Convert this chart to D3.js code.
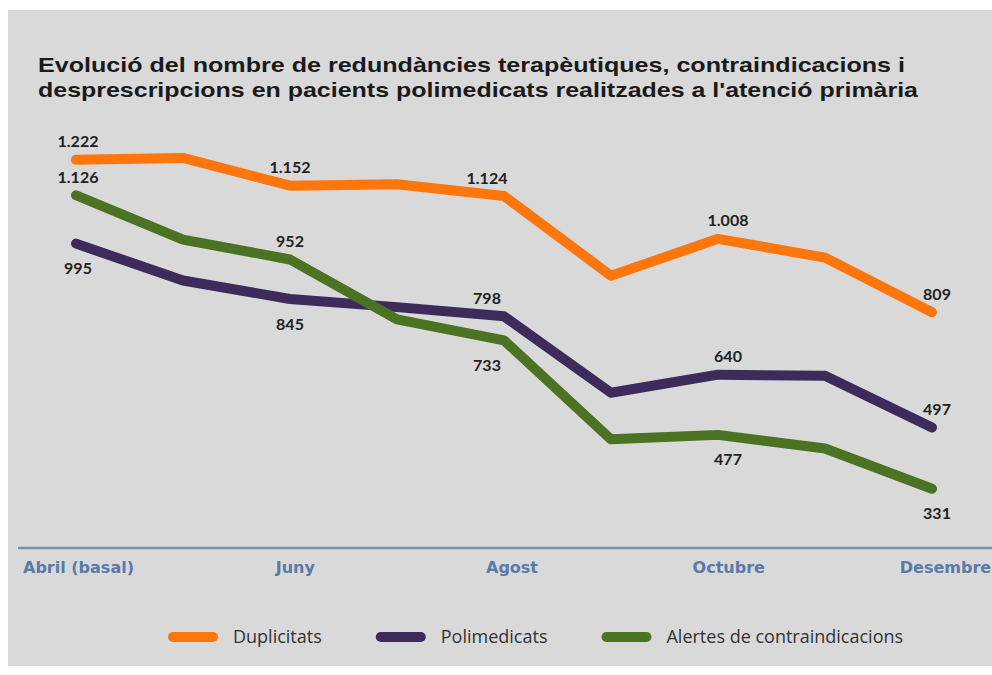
<!DOCTYPE html>
<html>
<head>
<meta charset="utf-8">
<script src="https://cdn.jsdelivr.net/npm/d3@7"></script>
<style>
  body { margin: 0; background: #fff; }
  svg { display: block; }
</style>
</head>
<body>
<div id="chart"></div>
<script>
const months = ["Abril (basal)", "Maig", "Juny", "Juliol", "Agost", "Setembre", "Octubre", "Novembre", "Desembre"];
const tickMonths = ["Abril (basal)", "Juny", "Agost", "Octubre", "Desembre"];

const duplicitats = [1222, 1227, 1152, 1156, 1124, 908, 1008, 957, 809];
const polimedicats = [995, 895, 845, 823, 798, 591, 640, 637, 497];
const alertes = [1126, 1006, 952, 790, 733, 465, 477, 440, 331];

const seriesNames = ["Duplicitats", "Polimedicats", "Alertes de contraindicacions"];
const titleLines = [
  "Evolució del nombre de redundàncies terapèutiques, contraindicacions i",
  "desprescripcions en pacients polimedicats realitzades a l'atenció primària"
];

const series = [
  { name: seriesNames[0], values: duplicitats, color: "#ff760d", place: ["a", "a", "a", "a", "a"] },
  { name: seriesNames[1], values: polimedicats, color: "#3d2b5b", place: ["b", "b", "a", "a", "a"] },
  { name: seriesNames[2], values: alertes, color: "#4b7323", place: ["a", "a", "b", "b", "b"] }
];

const width = 992, height = 675;
const fmt = v => v >= 1000 ? d3.format(",")(v).replace(",", ".") : String(v);

const svg = d3.select("#chart").append("svg")
  .attr("width", width)
  .attr("height", height);

svg.append("rect")
  .attr("x", 8).attr("y", 10)
  .attr("width", width - 8).attr("height", 656)
  .attr("fill", "#d9d9d9");

// title
svg.selectAll(".title")
  .data(titleLines)
  .enter()
  .append("text")
  .attr("class", "title")
  .attr("x", 38)
  .attr("y", (d, i) => 72 + i * 25)
  .attr("font-family", "'Liberation Sans', Arial, sans-serif")
  .attr("font-weight", "bold")
  .attr("font-size", "21px")
  .attr("fill", "#1a1a1a")
  .attr("textLength", (d, i) => i === 0 ? 867 : 880)
  .attr("lengthAdjust", "spacingAndGlyphs")
  .text(d => d);

const x = d3.scalePoint().domain(months).range([76, 932]);
const xLabel = d3.scalePoint().domain(months).range([78, 945]);
const y = d3.scaleLinear().domain([0, 1300]).range([611, 131]);

// axis line
svg.append("line")
  .attr("x1", 18).attr("x2", width)
  .attr("y1", 548).attr("y2", 548)
  .attr("stroke", "#7b8fa9")
  .attr("stroke-width", 2.5);

const xAxis = svg.append("g")
  .attr("transform", "translate(0,548)")
  .call(d3.axisBottom(xLabel).tickValues(tickMonths).tickSize(0).tickPadding(14));
xAxis.select(".domain").remove();
xAxis.selectAll("text")
  .attr("font-family", "'DejaVu Sans', Verdana, sans-serif")
  .attr("font-weight", "bold")
  .attr("font-size", "16px")
  .attr("fill", "#5a7aa8");

const line = d3.line()
  .x((d, i) => x(months[i]))
  .y(d => y(d));

svg.selectAll(".series")
  .data(series)
  .enter()
  .append("path")
  .attr("class", "series")
  .attr("fill", "none")
  .attr("stroke", d => d.color)
  .attr("stroke-width", 10)
  .attr("stroke-linejoin", "round")
  .attr("stroke-linecap", "round")
  .attr("d", d => line(d.values));

// value labels on every other month
const shift = { "Abril (basal)": 2, "Juny": 0, "Agost": -17, "Octubre": 10, "Desembre": 5 };
const labels = series.flatMap(s => tickMonths.map((m, k) => ({
  month: m,
  value: s.values[months.indexOf(m)],
  place: s.place[k]
})));

svg.selectAll(".val")
  .data(labels)
  .enter()
  .append("text")
  .attr("class", "val")
  .attr("x", d => x(d.month) + shift[d.month])
  .attr("y", d => y(d.value) + (d.place === "a" ? -18 : 25))
  .attr("dy", "0.35em")
  .attr("text-anchor", "middle")
  .attr("font-family", "Lato, sans-serif")
  .attr("font-weight", "bold")
  .attr("font-size", "16px")
  .attr("fill", "#222")
  .text(d => fmt(d.value));

// legend
const legend = svg.append("g").attr("transform", "translate(168,637)");
let lx = 0;
series.forEach(s => {
  const g = legend.append("g").attr("transform", `translate(${lx},0)`);
  g.append("line")
    .attr("x1", 5).attr("x2", 45)
    .attr("stroke", s.color)
    .attr("stroke-width", 10)
    .attr("stroke-linecap", "round");
  const t = g.append("text")
    .attr("x", 65)
    .attr("dy", "0.35em")
    .attr("font-family", "'Open Sans', sans-serif")
    .attr("font-size", "18px")
    .attr("fill", "#333")
    .text(s.name);
  lx += 65 + t.node().getComputedTextLength() + 54;
});
</script>
</body>
</html>
